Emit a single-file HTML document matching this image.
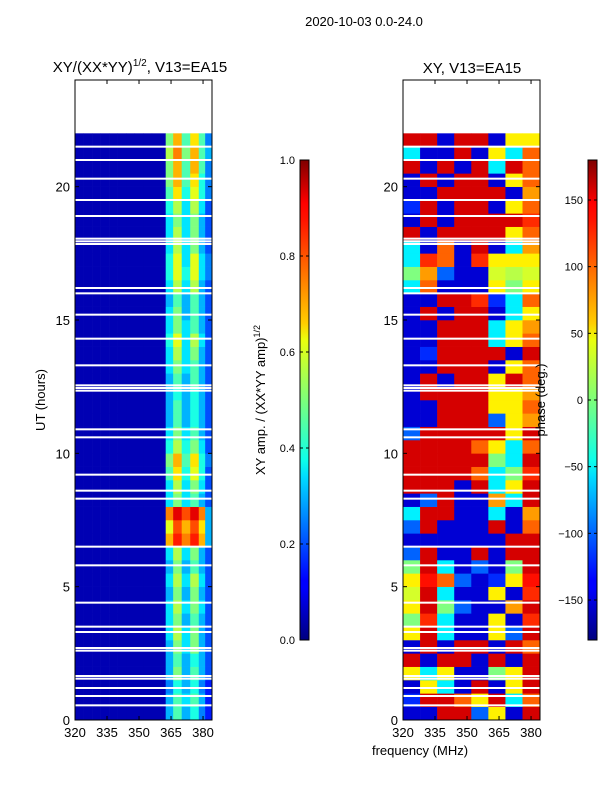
<!DOCTYPE html>
<html><head><meta charset="utf-8">
<style>
html,body{margin:0;padding:0;background:#fff;}
svg{display:block;font-family:"Liberation Sans","DejaVu Sans",sans-serif;}
</style></head>
<body>
<svg id="fig" width="600" height="800" viewBox="0 0 600 800" xmlns="http://www.w3.org/2000/svg">
<defs>
<linearGradient id="jet" x1="0" y1="1" x2="0" y2="0">
<stop offset="0" stop-color="#00007f"/><stop offset="0.11" stop-color="#0000ff"/>
<stop offset="0.125" stop-color="#0000ff"/><stop offset="0.34" stop-color="#00dcff"/>
<stop offset="0.375" stop-color="#0dffea"/><stop offset="0.5" stop-color="#7dff7a"/>
<stop offset="0.625" stop-color="#eaff0d"/><stop offset="0.66" stop-color="#ffcd00"/>
<stop offset="0.875" stop-color="#ff1300"/><stop offset="0.91" stop-color="#ff0000"/>
<stop offset="1" stop-color="#7f0000"/>
</linearGradient>
</defs>
<text x="364" y="26" font-size="13" text-anchor="middle">2020-10-03 0.0-24.0</text>
<g id="left"></g>
<g id="right"></g>
<g id="cb1"></g>
<g id="cb2"></g>
<text x="140" y="72" font-size="15" text-anchor="middle">XY/(XX*YY)<tspan font-size="10" dy="-6">1/2</tspan><tspan dy="6">, V13=EA15</tspan></text>
<text x="472" y="73" font-size="15" text-anchor="middle">XY, V13=EA15</text>
<text transform="translate(45,400) rotate(-90)" font-size="13" text-anchor="middle">UT (hours)</text>
<text transform="translate(265,400) rotate(-90)" font-size="13" text-anchor="middle">XY amp. / (XX*YY amp)<tspan font-size="9" dy="-5">1/2</tspan></text>
<text transform="translate(545,400) rotate(-90)" font-size="13" text-anchor="middle">phase (deg.)</text>
<text x="420" y="755" font-size="13" text-anchor="middle">frequency (MHz)</text>
</svg>
<script>
// ---- data ----
const timeBins = [0,0.5,1,1.5,2,2.5,3,3.5,4,4.5,5,5.5,6,6.5,7,7.5,8,8.5,9,9.5,10,10.5,11,11.5,12,12.5,13,13.5,14,14.5,15,15.5,16,16.5,17,17.5,18,18.5,19,19.5,20,20.5,21,21.5];
const ampFreqStart = [320,324,328,332,336,340,344,348,352,356,362.5,366,370,374,378,381];
const ampBackground = 0.05;
const ampBright = [
[.3,.45,.3,.4,.25,.15],[.3,.45,.35,.45,.3,.15],[.25,.4,.3,.4,.25,.15],[.3,.5,.3,.45,.3,.2],
[.3,.45,.3,.4,.3,.2],[.3,.5,.35,.5,.3,.2],[.35,.55,.35,.5,.3,.2],[.35,.5,.3,.45,.3,.2],
[.35,.55,.35,.5,.35,.2],[.3,.5,.3,.5,.3,.2],[.35,.55,.35,.55,.35,.2],[.3,.5,.3,.45,.3,.2],
[.35,.55,.35,.5,.3,.2],[.7,.85,.75,.85,.7,.3],[.6,.8,.7,.8,.65,.3],[.75,.9,.8,.9,.75,.3],
[.35,.5,.35,.45,.3,.2],[.35,.55,.35,.5,.35,.2],[.45,.65,.4,.6,.4,.2],[.5,.7,.45,.65,.4,.25],
[.4,.55,.4,.5,.35,.2],[.35,.5,.35,.45,.3,.2],[.3,.45,.3,.4,.3,.2],[.3,.45,.3,.4,.3,.2],
[.3,.4,.3,.4,.3,.2],[.3,.45,.3,.45,.3,.2],[.35,.5,.35,.45,.3,.2],[.35,.55,.35,.5,.3,.2],
[.4,.6,.35,.55,.35,.2],[.35,.5,.35,.45,.3,.2],[.35,.5,.3,.45,.3,.2],[.3,.45,.3,.45,.3,.2],
[.35,.55,.35,.55,.3,.2],[.4,.6,.4,.6,.35,.25],[.4,.6,.35,.6,.35,.25],[.35,.55,.35,.5,.3,.2],
[.35,.55,.35,.5,.3,.2],[.35,.5,.35,.5,.3,.2],[.4,.55,.35,.55,.35,.2],[.45,.65,.4,.6,.4,.25],
[.5,.7,.45,.65,.4,.25],[.5,.7,.45,.7,.45,.25],[.55,.75,.5,.7,.45,.3],[.5,.7,.45,.65,.45,.25]];
const phaseFreqStart = [320,328,336,344,352,360,368,376];
const phase = [
[-150,-150,150,150,-100,50,-150,150],[-120,150,150,100,50,150,-50,100],[-150,50,-50,-150,150,-150,50,150],[50,-50,50,-150,-150,0,50,150],
[150,-150,150,150,-150,150,-150,150],[-150,150,-150,150,150,-150,150,100],[50,150,-50,-150,-150,50,-100,150],[0,120,-50,-150,-150,50,-150,120],
[50,150,0,-100,-150,-150,80,150],[30,150,-50,-150,-150,50,-150,120],[50,130,100,-100,-150,-120,50,130],[0,150,-50,-150,-100,-150,0,150],
[-100,150,-150,-150,150,-150,150,150],[-150,-150,-150,-150,-150,-150,150,150],[-100,150,-150,-150,-150,150,-150,100],[-50,150,150,-150,-150,-50,-150,80],
[-150,-100,150,-150,-150,80,-50,150],[150,150,150,-150,150,-50,50,150],[150,150,150,150,100,-50,0,120],[150,150,150,150,150,0,-50,150],
[150,150,150,150,100,50,-50,100],[-100,150,150,150,150,150,50,150],[-150,-150,150,150,150,-100,50,80],[-150,-150,150,150,150,50,50,100],
[-150,150,150,150,150,50,50,80],[-150,150,-150,150,150,50,150,100],[-150,-150,150,150,150,-150,50,100],[-150,-120,150,150,150,150,-150,150],
[-150,-150,150,150,150,-50,50,100],[-150,-150,150,150,150,-50,50,80],[-150,150,-150,150,150,-150,-50,50],[-150,-150,150,150,120,-120,-50,100],
[-50,100,-150,-150,-150,50,0,50],[0,80,-100,-150,-150,30,20,30],[-50,120,100,-150,120,50,50,50],[-50,-150,100,-150,150,-150,-50,80],
[150,-150,150,150,150,150,50,100],[-150,150,-150,150,150,150,150,120],[-120,150,-150,150,150,-150,50,100],[-150,-150,150,150,150,150,-150,80],
[-150,150,-150,150,150,-150,50,100],[150,-150,150,-150,150,-50,150,100],[-50,-150,-150,150,-150,50,-50,100],[150,150,-150,150,150,-150,50,50]];
const gapTimes = [0.55,0.9,1.2,1.55,1.65,2.6,2.7,3.3,3.5,4.4,5.8,6.5,8.3,8.6,9.2,10.6,10.9,12.35,12.45,12.55,13.3,14.3,15.2,16.0,16.2,17.85,17.95,18.05,18.9,19.5,20.3,21.0,21.5];
const yTicks = [0,5,10,15,20];
const xTicks = [320,335,350,365,380];
const ampTicks = [0.0,0.2,0.4,0.6,0.8,1.0];
const phaseTicks = [-150,-100,-50,0,50,100,150];
// ---- drawing ----
const NS='http://www.w3.org/2000/svg';
const T0=720, PXH=26.6667, FMAX=384.2;
function yScale(t){return T0 - t*PXH;}
function mk(tag,attrs,parent){const e=document.createElementNS(NS,tag);for(const k in attrs)e.setAttribute(k,attrs[k]);parent.appendChild(e);return e;}
function jet(v){v=Math.max(0,Math.min(1,v));
 const r=Math.max(0,Math.min(1,1.5-Math.abs(4*v-3))),g=Math.max(0,Math.min(1,1.5-Math.abs(4*v-2))),b=Math.max(0,Math.min(1,1.5-Math.abs(4*v-1)));
 return 'rgb('+Math.round(r*255)+','+Math.round(g*255)+','+Math.round(b*255)+')';}
function panel(g,x0,w,freqStarts,rowVal,cmapVal){
 const xs=f=>x0+(f-320)*(w/(FMAX-320));
 for(let i=0;i<timeBins.length;i++){
  const t=timeBins[i];
  for(let j=0;j<freqStarts.length;j++){
   const f1=freqStarts[j], f2=j+1<freqStarts.length?freqStarts[j+1]:FMAX;
   const r=mk('rect',{x:xs(f1),y:yScale(t+0.5),width:xs(f2)-xs(f1)+0.3,height:0.5*PXH+0.3,fill:jet(cmapVal(rowVal(i,j)))},g);
   
   
  }
 }
 for(const gt of gapTimes){
  const r=mk('rect',{x:x0,y:yScale(gt)-1,width:w,height:2,fill:'#fff'},g);
  
  
 }
 mk('rect',{x:x0,y:80,width:w,height:640,fill:'none',stroke:'#000','stroke-width':1},g);
 for(const t of yTicks){const y=yScale(t);
  mk('line',{x1:x0,x2:x0+4,y1:y,y2:y,stroke:'#000'},g);mk('line',{x1:x0+w-4,x2:x0+w,y1:y,y2:y,stroke:'#000'},g);
  const tx=mk('text',{x:x0-5,y:y+5,'font-size':13,'text-anchor':'end'},g);tx.textContent=t;
  
  }
 for(const f of xTicks){const x=xs(f);
  mk('line',{x1:x,x2:x,y1:720,y2:716,stroke:'#000'},g);mk('line',{x1:x,x2:x,y1:80,y2:84,stroke:'#000'},g);
  const tx=mk('text',{x:x,y:737,'font-size':13,'text-anchor':'middle'},g);tx.textContent=f;
  
  }
}
panel(document.getElementById('left'),75,137,ampFreqStart,(i,j)=>j<10?ampBackground:ampBright[i][j-10],v=>v);
panel(document.getElementById('right'),403,137,phaseFreqStart,(i,j)=>phase[i][j],v=>(v+180)/360);
function cbar(g,x,ticks,vmin,vmax,isAmp){
 mk('rect',{x:x,y:160,width:9,height:480,fill:'url(#jet)',stroke:'#000','stroke-width':1},g);
 for(const t of ticks){const y=640-(t-vmin)/(vmax-vmin)*480;
  mk('line',{x1:x,x2:x+3,y1:y,y2:y,stroke:'#000'},g);mk('line',{x1:x+6,x2:x+9,y1:y,y2:y,stroke:'#000'},g);
  const tx=mk('text',{x:x-5,y:y+4,'font-size':11,'text-anchor':'end'},g);
  tx.textContent=isAmp?t.toFixed(1):(t<0?'\u2212'+(-t):String(t));
  
  }
}
cbar(document.getElementById('cb1'),300,ampTicks,0,1,true);
cbar(document.getElementById('cb2'),588,phaseTicks,-180,180,false);
</script>
</body></html>
